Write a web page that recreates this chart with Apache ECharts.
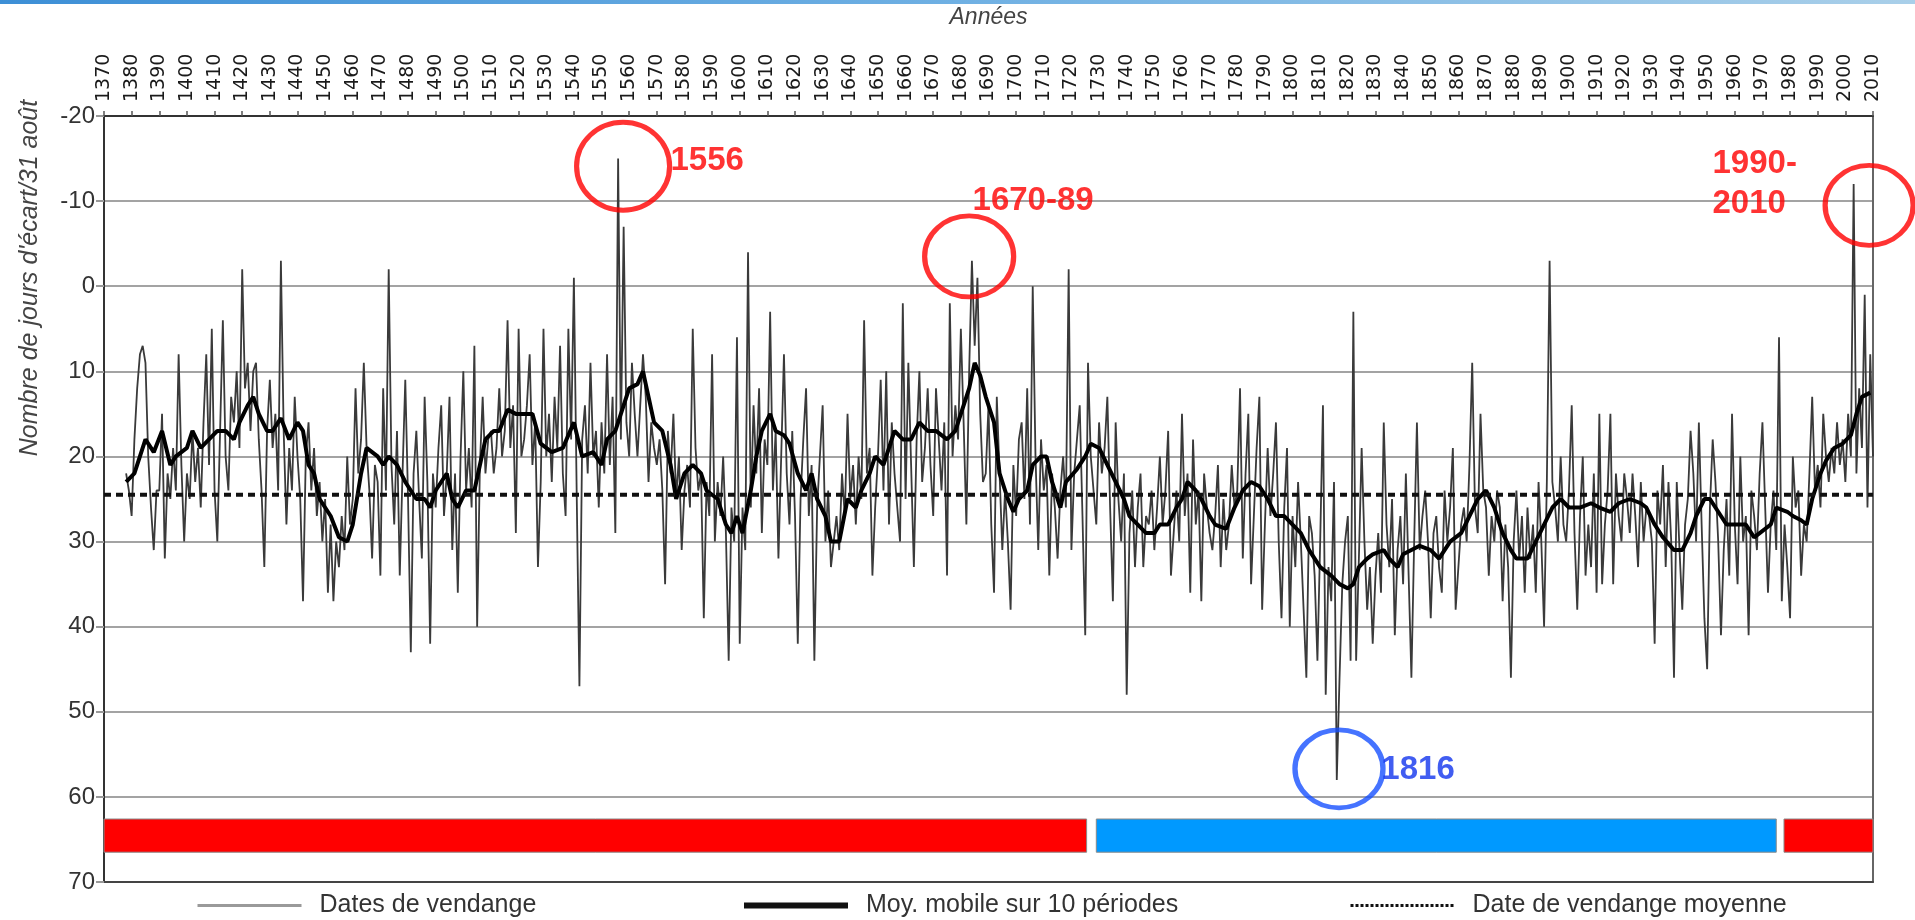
<!DOCTYPE html>
<html>
<head>
<meta charset="utf-8">
<script src="https://cdn.jsdelivr.net/npm/echarts@6/dist/echarts.min.js"></script>
<style>
html,body{margin:0;padding:0;background:#ffffff;}
#chart{width:1915px;height:920px;}
</style>
</head>
<body>
<div id="chart"></div>
<script>
// ---------------- DATA ----------------
// Harvest date, days after 31 August (negative = earlier), one value per year from harvestStart
const harvestStart = 1378;
const harvest = [
  22, 24,                                   // 1378-1379
  27, 18, 12, 8, 7, 9, 20, 26, 31, 24,      // 1380s
  24, 15, 32, 22, 25, 19, 24, 8, 21, 30,    // 1390s
  22, 25, 17, 23, 19, 26, 16, 8, 21, 5,     // 1400s
  24, 30, 17, 4, 20, 24, 13, 16, 10, 19,    // 1410s
  -2, 12, 9, 17, 10, 9, 18, 24, 33, 17,     // 1420s
  11, 19, 15, 24, -3, 17, 28, 19, 24, 13,   // 1430s
  20, 25, 37, 20, 16, 24, 19, 27, 23, 30,   // 1440s
  25, 36, 28, 37, 30, 33, 27, 31, 20, 28,   // 1450s
  25, 12, 22, 18, 9, 19, 24, 32, 21, 23,    // 1460s
  34, 12, 24, -2, 21, 28, 17, 34, 22, 11,   // 1470s
  25, 43, 22, 17, 25, 32, 13, 23, 42, 22,   // 1480s
  26, 19, 14, 27, 22, 13, 31, 22, 36, 20,   // 1490s
  10, 24, 19, 26, 7, 40, 21, 13, 22, 18,    // 1500s
  17, 22, 19, 12, 20, 17, 4, 19, 14, 29,    // 1510s
  5, 20, 18, 14, 8, 21, 16, 33, 23, 5,      // 1520s
  20, 15, 23, 13, 19, 7, 22, 27, 5, 18,     // 1530s
  -1, 24, 47, 18, 14, 22, 9, 20, 17, 26,    // 1540s
  16, 22, 8, 21, 13, 29, -15, 18, -7, 16,   // 1550s
  20, 9, 15, 20, 14, 8, 13, 23, 16, 19,     // 1560s
  21, 18, 24, 35, 17, 22, 15, 25, 20, 31,   // 1570s
  24, 21, 26, 5, 19, 24, 22, 39, 23, 27,    // 1580s
  8, 30, 23, 27, 20, 29, 44, 26, 30, 6,     // 1590s
  42, 26, 31, -4, 26, 14, 22, 12, 29, 18,   // 1600s
  21, 3, 24, 17, 32, 20, 8, 22, 28, 17,     // 1610s
  27, 42, 25, 18, 12, 27, 21, 44, 26, 20,   // 1620s
  14, 30, 24, 33, 30, 27, 31, 22, 27, 15,   // 1630s
  25, 21, 28, 20, 25, 4, 22, 19, 34, 26,    // 1640s
  20, 11, 24, 10, 28, 16, 22, 26, 30, 2,    // 1650s
  25, 9, 21, 33, 18, 10, 23, 19, 12, 21,    // 1660s
  27, 12, 18, 24, 16, 34, 2, 20, 14, 18,    // 1670s
  5, 16, 28, 10, -3, 7, -1, 15, 23, 22,     // 1680s
  14, 28, 36, 13, 22, 31, 24, 30, 38, 21,   // 1690s
  27, 18, 16, 25, 12, 28, 0, 20, 31, 18,    // 1700s
  24, 21, 34, 22, 26, 32, 24, 20, 26, -2,   // 1710s
  31, 22, 18, 14, 27, 41, 9, 20, 24, 28,    // 1720s
  16, 22, 19, 13, 26, 37, 16, 25, 30, 22,   // 1730s
  48, 29, 24, 33, 26, 22, 33, 27, 28, 24,   // 1740s
  31, 26, 20, 28, 24, 17, 34, 29, 24, 30,   // 1750s
  15, 27, 22, 36, 18, 28, 24, 37, 22, 26,   // 1760s
  29, 31, 27, 21, 33, 25, 31, 28, 21, 26,   // 1770s
  24, 12, 32, 22, 15, 35, 27, 19, 13, 38,   // 1780s
  28, 19, 27, 22, 16, 30, 39, 26, 19, 40,   // 1790s
  27, 33, 23, 30, 38, 46, 27, 29, 34, 44,   // 1800s
  30, 14, 48, 33, 37, 23, 58, 46, 35, 30,   // 1810s
  27, 44, 3, 44, 32, 19, 30, 38, 33, 42,    // 1820s
  34, 29, 36, 16, 28, 33, 25, 41, 31, 27,   // 1830s
  35, 22, 34, 46, 30, 16, 31, 27, 24, 30,   // 1840s
  39, 29, 27, 33, 36, 24, 30, 26, 19, 38,   // 1850s
  33, 28, 26, 30, 21, 9, 26, 29, 15, 24,    // 1860s
  26, 34, 27, 30, 24, 26, 37, 28, 33, 46,   // 1870s
  30, 24, 32, 27, 36, 26, 32, 28, 36, 23,   // 1880s
  30, 40, 23, -3, 23, 26, 30, 20, 28, 30,   // 1890s
  24, 14, 29, 38, 27, 20, 34, 28, 33, 22,   // 1900s
  36, 15, 35, 28, 24, 15, 35, 22, 27, 30,   // 1910s
  22, 25, 29, 22, 27, 33, 23, 30, 26, 27,   // 1920s
  30, 42, 24, 28, 21, 33, 23, 30, 46, 23,   // 1930s
  31, 38, 28, 25, 17, 22, 30, 16, 28, 39,   // 1940s
  45, 26, 18, 23, 30, 41, 31, 25, 34, 15,   // 1950s
  28, 35, 20, 30, 27, 41, 24, 27, 31, 22,   // 1960s
  16, 26, 36, 28, 24, 31, 6, 37, 28, 33,    // 1970s
  39, 20, 26, 24, 34, 28, 30, 22, 13, 24,   // 1980s
  21, 26, 15, 20, 23, 19, 22, 16, 21, 18,   // 1990s
  23, 15, 20, -12, 22, 12, 19, 1, 26, 8, 20 // 2000-2010
];

// 10-period moving average
const maYears = [
  1378,1381,1383,1385,1388,1391,1394,1396,1400,1402,1405,1408,1411,1414,1417,1419,1422,1424,1426,1429,
  1431,1434,1437,1440,1442,1444,1446,1448,1452,1455,1458,1460,1463,1465,1469,1471,1473,1476,1479,1483,
  1486,1488,1490,1494,1496,1498,1501,1504,1506,1508,1511,1513,1516,1519,1523,1525,1528,
  1532,1536,1540,1543,1547,1550,1552,1555,1558,1560,1563,1565,1567,1569,1572,1575,1577,1580,1583,1586,
  1588,1592,1595,1597,1599,1601,1604,1606,1608,1611,1613,1616,1618,1621,1624,1626,1628,1631,1633,1636,
  1639,1642,1644,1647,1649,1652,1656,1659,1662,1665,1668,1671,1675,1678,1680,1683,1685,
  1687,1689,1692,1694,1697,1699,1701,1704,1706,1709,1711,1713,1716,1718,1722,1725,1727,1730,1733,1736,
  1739,1741,1744,1747,1750,1752,1755,1758,1760,1762,1765,1767,1770,1772,1776,1779,1782,1785,1788,1791,
  1794,1797,1800,1803,1806,1810,1814,1817,1820,1822,1824,1827,1829,1833,1835,1838,1840,1843,
  1846,1850,1853,1857,1861,1864,1867,1870,1873,1876,1879,1881,1885,1888,1891,1894,1897,1900,1904,1908,
  1911,1915,1918,1922,1926,1928,1931,1934,1938,1941,1944,1946,1949,1951,1955,1957,1961,1964,1967,1969,
  1973,1975,1979,1981,1984,1986,1988,1991,1993,1996,1999,2002,2004,2006,2009
];
const maValues = [
  23,22,20,18,19.5,17,21,20,19,17,19,18,17,17,18,16,14,13,15,17,
  17,15.5,18,16,17,21,22,25,27,29.5,30,28,22,19,20,21,20,21,23,25,
  25,26,24,22,25,26,24,24,21,18,17,17,14.5,15,15,15,18.5,
  19.5,19,16,20,19.5,21,18,17,14,12,11.5,10,13,16,17,21,25,22,21,22,
  24,25,28,29,27,29,24,20,17,15,17,17.5,18.5,22,24,22,25,27,30,30,
  25,26,24,22,20,21,17,18,18,16,17,17,18,17,15,12,9,
  10.5,13,16,22,25,26.5,25,24,21,20,20,23,26,23,21.5,20,18.5,19,21,23,
  25,27,28,29,29,28,28,26,25,23,24,25,27,28,28.5,26,24,23,23.5,25,
  27,27,28,29,31,33,34,35,35.5,35,33,32,31.5,31,32,33,31.5,31,
  30.5,31,32,30,29,27,25,24,26,29,31,32,32,30,28,26,25,26,26,25.5,
  26,26.5,25.5,25,25.5,26,28,29.5,31,31,29,27,25,25,27,28,28,28,29.5,29,
  28,26,26.5,27,27.5,28,25,22,20.5,19,18.5,17.5,15,13,12.5
];

// Mean harvest date over the whole period
const meanDate = 24.5;

// Coloured period bands (start year, end year) and their colours
const periodStarts = [1370, 1729, 1977.8];
const periodEnds   = [1725.5, 1975, 2010];
const periodColors = ['#ff0000', '#0099ff', '#ff0000'];
const bandTop = 62.6, bandBottom = 66.5;

// Annotated episodes (circle centre in data units) and their labels
const annYears  = [1557.8, 1683, 2008.6, 1816.8];
const annValues = [-14.1, -3.5, -9.5, 56.7];
const annLabels = ['1556', '1670-89', '1990-\n2010', '1816'];
const annColors = ['#ff0000', '#ff0000', '#ff0000', '#1650ff'];
const annTextColors = ['#ff0000', '#ff0000', '#ff0000', '#1234ee'];

// ---------------- STYLE (not data) ----------------
const annSizes   = [[93, 88], [89, 81], [88, 80], [88, 78]];
const annOffsets = [[50, -3], [6, -53], [-154, -19], [45, 3]];

const FONT = '"Liberation Sans", Arial, sans-serif';

const harvestData = harvest.map((v, i) => [harvestStart + i, v]);
const maData = maYears.map((y, i) => [y, maValues[i]]);
const meanData = [[1370, meanDate], [2010, meanDate]];

const bandAreas = periodStarts.map((s, i) => [
  { xAxis: s, yAxis: bandTop, itemStyle: { color: periodColors[i], borderColor: '#8a8a8a', borderWidth: 1 } },
  { xAxis: periodEnds[i], yAxis: bandBottom }
]);

const annData = annYears.map((y, i) => ({
  value: [y, annValues[i]],
  symbolSize: annSizes[i],
  itemStyle: { color: 'rgba(0,0,0,0)', borderColor: annColors[i], borderWidth: 5 },
  label: {
    show: true,
    formatter: annLabels[i],
    position: [annSizes[i][0] / 2 + annOffsets[i][0], annSizes[i][1] / 2 + annOffsets[i][1]],
    align: 'left',
    verticalAlign: 'middle',
    color: annTextColors[i],
    fontFamily: FONT,
    fontWeight: 'bold',
    fontSize: 33,
    lineHeight: 40
  }
}));

const chart = echarts.init(document.getElementById('chart'), null, { renderer: 'canvas' });

const hiddenSymbol = { color: 'rgba(0,0,0,0)', opacity: 0, borderWidth: 0 };
const legendBase = {
  top: 888,
  itemWidth: 104,
  itemHeight: 22,
  selectedMode: false,
  textStyle: { fontFamily: FONT, fontSize: 25, color: '#333', padding: [0, 0, 0, 13] }
};

chart.setOption({
  animation: false,
  backgroundColor: '#ffffff',
  grid: { left: 104, right: 42, top: 116, bottom: 38, containLabel: false, outerBoundsMode: 'none' },
  xAxis: [
    {
      type: 'value', position: 'top', min: 1370, max: 2010, interval: 10,
      name: 'Années', nameLocation: 'middle', nameGap: 87,
      nameTextStyle: { fontFamily: FONT, fontStyle: 'italic', fontSize: 23, color: '#444' },
      axisLine: { show: true, onZero: false, lineStyle: { color: '#333', width: 2 } },
      axisTick: { show: true, length: 5, lineStyle: { color: '#555', width: 1.5 } },
      axisLabel: { rotate: -90, margin: 14, fontFamily: '"DejaVu Sans", sans-serif', fontSize: 19, color: '#1a1a1a',
                   formatter: v => String(v) },
      splitLine: { show: false }
    },
    {
      type: 'value', position: 'bottom', min: 1370, max: 2010,
      axisLine: { show: true, onZero: false, lineStyle: { color: '#444', width: 2 } },
      axisTick: { show: false }, axisLabel: { show: false }, splitLine: { show: false }
    }
  ],
  yAxis: [
    {
      type: 'value', inverse: true, min: -20, max: 70, interval: 10,
      axisLine: { show: true, onZero: false, lineStyle: { color: '#333', width: 2 } },
      axisTick: { show: true, length: 8, lineStyle: { color: '#999', width: 2 } },
      axisLabel: { margin: 9, fontFamily: FONT, fontSize: 24, color: '#333' },
      splitLine: { show: true, lineStyle: { color: '#a3a3a3', width: 2 } }
    },
    {
      type: 'value', position: 'right', inverse: true, min: -20, max: 70,
      axisLine: { show: true, onZero: false, lineStyle: { color: '#666', width: 2 } },
      axisTick: { show: false }, axisLabel: { show: false }, splitLine: { show: false }
    }
  ],
  legend: [
    Object.assign({}, legendBase, { left: 191, data: [{ name: 'Dates de vendange', itemStyle: hiddenSymbol, lineStyle: { color: '#9a9a9a', width: 3 } }] }),
    Object.assign({}, legendBase, { left: 736, data: [{ name: 'Moy. mobile sur 10 périodes', itemStyle: hiddenSymbol, lineStyle: { color: '#111', width: 6 } }] }),
    Object.assign({}, legendBase, { left: 1344, data: [{ name: 'Date de vendange moyenne', itemStyle: hiddenSymbol, lineStyle: { color: '#111', width: 3, type: [3, 2] } }] })
  ],
  graphic: [
    {
      type: 'rect', left: 0, top: 0, z: 100,
      shape: { width: 1915, height: 4 },
      style: { fill: new echarts.graphic.LinearGradient(0, 0, 1, 0, [
        { offset: 0, color: '#3d8fd6' }, { offset: 0.5, color: '#6fb0e3' }, { offset: 1, color: '#a9cfe9' }
      ]) }
    },
    {
      type: 'text', x: 30, y: 278, rotation: Math.PI / 2,
      style: {
        text: "Nombre de jours d'écart/31 août",
        fontFamily: FONT, fontStyle: 'italic', fontSize: 25, fill: '#444',
        align: 'center', verticalAlign: 'middle'
      }
    }
  ],
  series: [
    {
      name: 'Dates de vendange', type: 'line', data: harvestData,
      symbol: 'none', z: 2,
      lineStyle: { color: '#3a3a3a', width: 1.8 },
      itemStyle: { color: '#3a3a3a' }
    },
    {
      name: 'Moy. mobile sur 10 périodes', type: 'line', data: maData,
      symbol: 'none', z: 3,
      lineStyle: { color: '#000', width: 4 },
      itemStyle: { color: '#000' }
    },
    {
      name: 'Date de vendange moyenne', type: 'line', data: meanData,
      symbol: 'none', z: 4,
      lineStyle: { color: '#111', width: 4, type: [7, 5] },
      itemStyle: { color: '#111' },
      markArea: { silent: true, z: 1, data: bandAreas }
    },
    {
      name: 'annotations', type: 'scatter', data: annData, z: 10,
      symbol: 'circle', silent: true, clip: false
    }
  ]
});
</script>
</body>
</html>
